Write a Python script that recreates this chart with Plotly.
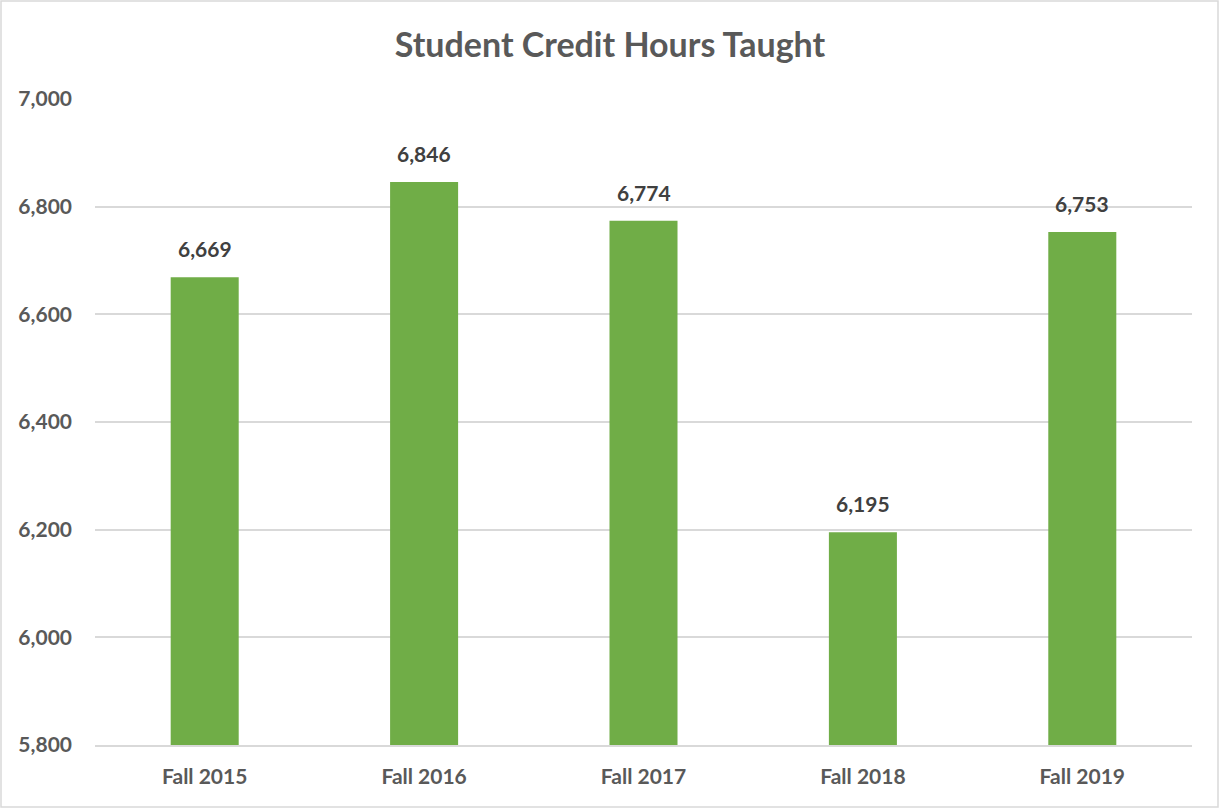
import plotly.graph_objects as go

terms = ["Fall 2015", "Fall 2016", "Fall 2017", "Fall 2018", "Fall 2019"]
credit_hours = [6669, 6846, 6774, 6195, 6753]

W, H = 1220, 809
ML, MR, MT, MB = 95, 28, 99, 64
pw, ph = W - ML - MR, H - MT - MB
FONT = "Lato, Open Sans, sans-serif"

fig = go.Figure()
fig.add_trace(go.Bar(
    x=terms,
    y=credit_hours,
    marker=dict(color="#70AD47", line=dict(width=0)),
    width=0.31,
    hoverinfo="x+y",
))

# value labels sit a little above each bar
for t, v in zip(terms, credit_hours):
    fig.add_annotation(
        x=t, y=v, text=f"<b>{v:,}</b>",
        showarrow=False, yanchor="bottom", yshift=14,
        font=dict(family=FONT, size=21, color="#404040"),
    )

fig.update_layout(
    width=W, height=H,
    margin=dict(l=ML, r=MR, t=MT, b=MB),
    paper_bgcolor="white",
    plot_bgcolor="white",
    showlegend=False,
    title=dict(
        text="<b>Student Credit Hours Taught</b>",
        x=0.5, xanchor="center",
        y=1 - 45 / H, yanchor="middle",
        font=dict(family=FONT, size=34, color="#595959"),
    ),
    font=dict(family=FONT, color="#595959"),
    shapes=[dict(
        type="rect", xref="paper", yref="paper",
        x0=(1 - ML) / pw, x1=(W - 2 - ML) / pw,
        y0=-(MB - 2) / ph, y1=(ph + MT - 1) / ph,
        line=dict(color="#D9D9D9", width=1.5),
        fillcolor="rgba(0,0,0,0)",
        layer="below",
    )],
)

fig.update_yaxes(
    range=[5800, 7000],
    dtick=200,
    tickformat=",",
    showgrid=True,
    gridcolor="#D9D9D9",
    gridwidth=1.5,
    zeroline=False,
    showline=False,
    ticks="",
    ticklabelstandoff=22,
    tickfont=dict(size=21, color="#595959", weight="bold"),
)
fig.update_xaxes(
    showline=True,
    linecolor="#D9D9D9",
    linewidth=1.5,
    ticks="",
    ticklabelstandoff=12,
    tickfont=dict(size=21, color="#595959", weight="bold"),
)

fig.write_html("out.html", config={"displayModeBar": False},
               post_script="document.body.style.margin='0px';")
